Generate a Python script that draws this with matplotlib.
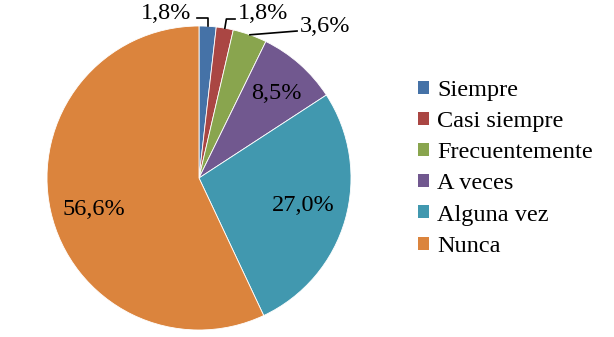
import numpy as np
import matplotlib.pyplot as plt
from matplotlib.patches import Patch

plt.rcParams['font.family'] = ['Liberation Serif', 'DejaVu Serif']

categories = ['Siempre', 'Casi siempre', 'Frecuentemente', 'A veces', 'Alguna vez', 'Nunca']
values = [1.8, 1.8, 3.6, 8.5, 27.0, 56.6]
labels = ['1,8%', '1,8%', '3,6%', '8,5%', '27,0%', '56,6%']
colors = ['#4572A7', '#AA4643', '#89A54E', '#71588F', '#4198AF', '#DB843D']

W, H = 614, 337
fig = plt.figure(figsize=(W / 100, H / 100), dpi=100)
cx, cy, r = 199, 159, 152  # pie centre (from bottom) and radius in px
ax = fig.add_axes([(cx - r) / W, (cy - r) / H, 2 * r / W, 2 * r / H])

wedges, _ = ax.pie(values, colors=colors, startangle=90, counterclock=False,
                   radius=1, wedgeprops=dict(edgecolor='white', linewidth=0.6))
ax.set_xlim(-1, 1)
ax.set_ylim(-1, 1)
ax.axis('off')

fs = 17.5
total = sum(values)
cum = np.cumsum([0] + values[:-1])
mid = np.deg2rad(90 - 360 * (cum + np.array(values) / 2) / total)

def edge(i):
    return np.cos(mid[i]), np.sin(mid[i])

# small slices: labels outside with leader lines
x0, y0 = edge(0)
ax.plot([-0.013, x0, x0], [1.053, 1.053, y0], color='black', lw=1.2, clip_on=False)
ax.text(-0.05, 1.08, labels[0], ha='right', va='center', fontsize=fs)

x1, y1 = edge(1)
ax.plot([x1, x1 + 0.01, 0.237], [y1, 1.046, 1.046], color='black', lw=1.2, clip_on=False)
ax.text(0.257, 1.08, labels[1], ha='left', va='center', fontsize=fs)

x2, y2 = edge(2)
ax.plot([x2, 0.645], [y2, 0.967], color='black', lw=1.2, clip_on=False)
ax.text(0.664, 1.0, labels[2], ha='left', va='center', fontsize=fs)

# inside labels
inside = {3: (0.507, 0.559), 4: (0.688, -0.178), 5: (-0.694, -0.21)}
for i, (tx, ty) in inside.items():
    ax.text(tx, ty, labels[i], ha='center', va='center', fontsize=fs)

handles = [Patch(facecolor=c, edgecolor='none') for c in colors]
fig.legend(handles, categories, loc='upper left', bbox_to_anchor=(408 / W, 1 - 70 / H),
           frameon=False, fontsize=fs, handlelength=0.45, handleheight=0.45,
           handletextpad=0.35, labelspacing=0.42, borderaxespad=0)

fig.savefig('out.png', dpi=100)
